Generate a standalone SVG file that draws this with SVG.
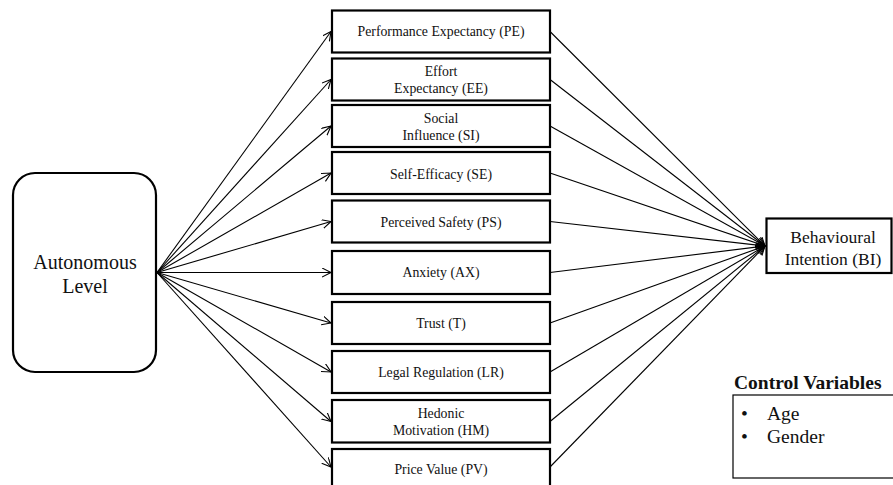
<svg xmlns="http://www.w3.org/2000/svg" width="893" height="485" viewBox="0 0 893 485">
<style>
text{font-family:'Liberation Serif','Tinos','Times New Roman','DejaVu Serif',serif;fill:#111}
.box{fill:#fff;stroke:#000;stroke-width:2.2}
.t{font-size:13.8px;text-anchor:middle}
.big{font-size:20px;text-anchor:middle}
.mid{font-size:17.5px;text-anchor:middle}
.cv{font-size:19.5px}
.ln{fill:none;stroke:#000;stroke-width:1.1;marker-end:url(#ah)}
</style>
<defs>
<marker id="ah" markerUnits="userSpaceOnUse" markerWidth="12" markerHeight="12" refX="9" refY="4.5" orient="auto" viewBox="0 0 12 12">
<path d="M0,0 L9,4.5 L0,9" fill="none" stroke="#000" stroke-width="1.1"/>
</marker>
</defs>
<rect width="893" height="485" fill="#fff"/>
<g id="connectors">
<line class="ln" x1="157" y1="272.5" x2="331" y2="31.5"/>
<line class="ln" x1="157" y1="272.5" x2="331" y2="79.5"/>
<line class="ln" x1="157" y1="272.5" x2="331" y2="126"/>
<line class="ln" x1="157" y1="272.5" x2="331" y2="173"/>
<line class="ln" x1="157" y1="272.5" x2="331" y2="221.5"/>
<line class="ln" x1="157" y1="272.5" x2="331" y2="272.5"/>
<line class="ln" x1="157" y1="272.5" x2="331" y2="323"/>
<line class="ln" x1="157" y1="272.5" x2="331" y2="372"/>
<line class="ln" x1="157" y1="272.5" x2="331" y2="421.5"/>
<line class="ln" x1="157" y1="272.5" x2="331" y2="467"/>
<line class="ln" x1="550" y1="31.5" x2="765" y2="246"/>
<line class="ln" x1="550" y1="79.5" x2="765" y2="246"/>
<line class="ln" x1="550" y1="126" x2="765" y2="246"/>
<line class="ln" x1="550" y1="173" x2="765" y2="246"/>
<line class="ln" x1="550" y1="221.5" x2="765" y2="246"/>
<line class="ln" x1="550" y1="272.5" x2="765" y2="246"/>
<line class="ln" x1="550" y1="323" x2="765" y2="246"/>
<line class="ln" x1="550" y1="372" x2="765" y2="246"/>
<line class="ln" x1="550" y1="421.5" x2="765" y2="246"/>
<line class="ln" x1="550" y1="467" x2="765" y2="246"/>
</g>
<g id="autonomous">
<rect class="box" x="13" y="173" width="143" height="199" rx="22"/>
<text class="big" x="85" y="269">Autonomous</text>
<text class="big" x="85" y="293">Level</text>
</g>
<g id="pe"><rect class="box" x="332" y="10.5" width="218" height="42"/><text class="t" x="441" y="36">Performance Expectancy (PE)</text></g>
<g id="ee"><rect class="box" x="332" y="58.5" width="218" height="42"/><text class="t" x="441" y="76">Effort</text><text class="t" x="441" y="93">Expectancy (EE)</text></g>
<g id="si"><rect class="box" x="332" y="105" width="218" height="42"/><text class="t" x="441" y="122.5">Social</text><text class="t" x="441" y="140">Influence (SI)</text></g>
<g id="se"><rect class="box" x="332" y="152" width="218" height="42"/><text class="t" x="441" y="178.5">Self-Efficacy (SE)</text></g>
<g id="ps"><rect class="box" x="332" y="200.5" width="218" height="42"/><text class="t" x="441" y="226.5">Perceived Safety (PS)</text></g>
<g id="ax"><rect class="box" x="332" y="251" width="218" height="43"/><text class="t" x="441" y="277">Anxiety (AX)</text></g>
<g id="t"><rect class="box" x="332" y="302" width="218" height="42"/><text class="t" x="441" y="327.5">Trust (T)</text></g>
<g id="lr"><rect class="box" x="332" y="351" width="218" height="42"/><text class="t" x="441" y="377">Legal Regulation (LR)</text></g>
<g id="hm"><rect class="box" x="332" y="400" width="218" height="42.5"/><text class="t" x="441" y="417.5">Hedonic</text><text class="t" x="441" y="434.5">Motivation (HM)</text></g>
<g id="pv"><rect class="box" x="332" y="449" width="218" height="42"/><text class="t" x="441" y="473.5">Price Value (PV)</text></g>
<g id="bi">
<rect class="box" x="766.5" y="218.5" width="125" height="54.5"/>
<text class="mid" x="833" y="243">Behavioural</text>
<text class="mid" x="833" y="265">Intention (BI)</text>
</g>
<g id="control">
<text class="cv" x="734" y="389" font-weight="bold">Control Variables</text>
<rect x="733" y="395" width="170" height="83" fill="#fff" stroke="#000" stroke-width="1.2"/>
<text class="cv" x="741" y="420">•</text>
<text class="cv" x="767" y="420">Age</text>
<text class="cv" x="741" y="443">•</text>
<text class="cv" x="767" y="443">Gender</text>
</g>
</svg>
